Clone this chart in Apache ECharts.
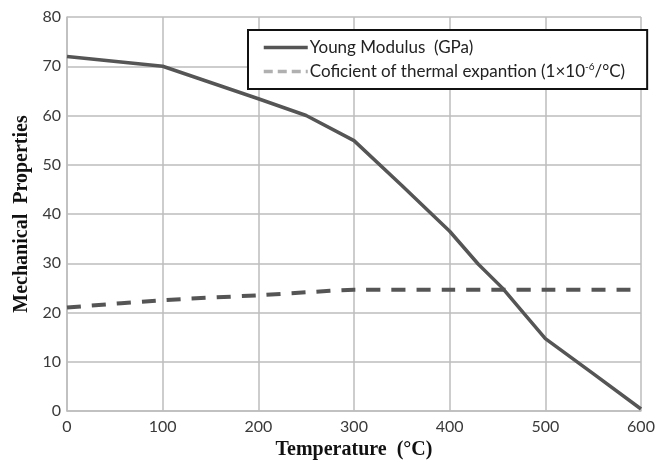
<!DOCTYPE html>
<html>
<head>
<meta charset="utf-8">
<script src="https://cdn.jsdelivr.net/npm/echarts@6/dist/echarts.min.js"></script>
<style>
  html, body { margin: 0; padding: 0; background: #fff; }
  #chart { width: 666px; height: 465px; }
</style>
</head>
<body>
<div id="chart"></div>
<script>
// Temperature (°C) sample points
const youngTemps = [0, 100, 150, 200, 250, 300, 350, 400, 430, 455, 478, 500, 550, 600];
// Young modulus (GPa)
const youngValues = [72, 70, 66.7, 63.4, 60, 54.9, 45.8, 36.5, 29.8, 25, 19.7, 14.7, 7.6, 0.4];

const cteTemps = [0, 100, 200, 250, 300, 400, 500, 600];
// Coefficient of thermal expansion (1e-6/°C)
const cteValues = [21, 22.5, 23.5, 24.1, 24.6, 24.6, 24.6, 24.6];

const yTicks = [0, 10, 20, 30, 40, 50, 60, 70, 80];
const xTicks = [0, 100, 200, 300, 400, 500, 600];

const youngName = 'Young Modulus  (GPa)';
const cteName = 'Coficient of thermal expantion';

const pair = (xs, ys) => xs.map((x, i) => [x, ys[i]]);

const chart = echarts.init(document.getElementById('chart'));
const gridColor = '#bdbdbd';
const tickFont = { fontFamily: 'Lato', fontSize: 16, color: '#3a3a3a' };
const titleFont = { fontFamily: 'Liberation Serif', fontWeight: 'bold', fontSize: 20, color: '#111' };

chart.setOption({
  animation: false,
  backgroundColor: '#ffffff',
  grid: { left: 67, right: 25, top: 17, bottom: 53, containLabel: false },
  xAxis: {
    type: 'value',
    min: xTicks[0],
    max: xTicks[xTicks.length - 1],
    interval: 100,
    name: 'Temperature  (°C)',
    nameLocation: 'middle',
    nameGap: 29,
    nameTextStyle: titleFont,
    axisLine: { lineStyle: { color: gridColor, width: 1.5 } },
    axisTick: { show: false },
    axisLabel: Object.assign({ margin: 8 }, tickFont),
    splitLine: { show: true, lineStyle: { color: gridColor, width: 1.5 } }
  },
  yAxis: {
    type: 'value',
    min: yTicks[0],
    max: yTicks[yTicks.length - 1],
    interval: 10,
    name: 'Mechanical  Properties',
    nameLocation: 'middle',
    nameRotate: 90,
    nameGap: 31,
    nameTextStyle: titleFont,
    axisLine: { show: true, lineStyle: { color: gridColor, width: 1.5 } },
    axisTick: { show: false },
    axisLabel: Object.assign({ margin: 6 }, tickFont),
    splitLine: { show: true, lineStyle: { color: gridColor, width: 1.5 } }
  },
  legend: {
    orient: 'vertical',
    left: 248,
    top: 30,
    padding: [9, 22, 9, 14],
    itemGap: 6,
    itemWidth: 44,
    itemHeight: 14,
    backgroundColor: '#ffffff',
    borderColor: '#111111',
    borderWidth: 2,
    borderRadius: 0,
    itemStyle: { opacity: 0 },
    textStyle: {
      fontFamily: 'Lato',
      fontSize: 17,
      color: '#222',
      padding: [0, 0, 0, -3],
      rich: {
        t: { fontFamily: 'Lato', fontSize: 17, color: '#222' },
        s: { fontFamily: 'Lato', fontSize: 10, color: '#222', verticalAlign: 'top', padding: [0, 0, 9, 0] }
      }
    },
    formatter: function (name) {
      if (name === cteName) {
        return '{t|' + cteName + ' (1×10}{s|-6}{t|/°C)}';
      }
      return '{t|' + name + '}';
    },
    data: [
      { name: youngName, itemStyle: { opacity: 0 }, lineStyle: { color: '#555555', width: 3.5, type: 'solid' } },
      { name: cteName, itemStyle: { opacity: 0 }, lineStyle: { color: '#b0b0b0', width: 3.5, type: [9, 5] } }
    ]
  },
  series: [
    {
      name: youngName,
      type: 'line',
      data: pair(youngTemps, youngValues),
      symbol: 'none',
      smooth: false,
      lineStyle: { color: '#555555', width: 3.5 },
      itemStyle: { color: '#555555' },
      z: 3
    },
    {
      name: cteName,
      type: 'line',
      data: pair(cteTemps, cteValues),
      symbol: 'none',
      smooth: 0.3,
      lineStyle: { color: '#555555', width: 4, type: [14, 11] },
      itemStyle: { color: '#555555' },
      z: 2
    }
  ]
});
</script>
</body>
</html>
